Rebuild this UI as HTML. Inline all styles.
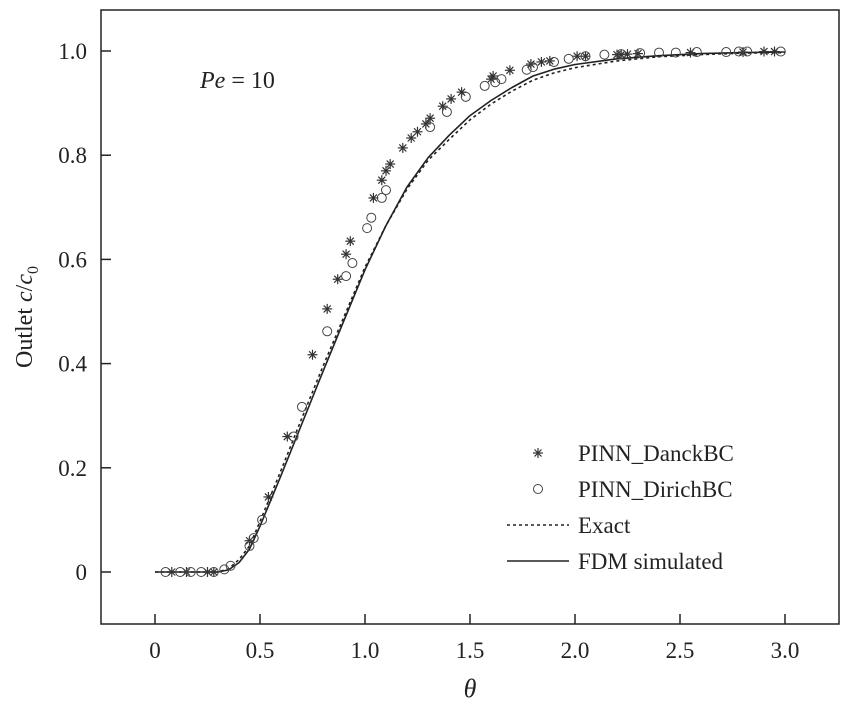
<!DOCTYPE html>
<html><head><meta charset="utf-8"><style>
html,body{margin:0;padding:0;background:#fff}
svg{display:block;font-family:"Liberation Serif",serif}
</style></head><body>
<svg id="chart" width="856" height="710">
<g id="axes"></g><g id="series"></g><g id="legend"></g>
</svg>
<script>
const xTicks=[0,0.5,1.0,1.5,2.0,2.5,3.0];
const xTickLabels=["0","0.5","1.0","1.5","2.0","2.5","3.0"];
const yTicks=[0,0.2,0.4,0.6,0.8,1.0];
const yTickLabels=["0","0.2","0.4","0.6","0.8","1.0"];
const danckX=[0.08,0.15,0.25,0.28,0.45,0.54,0.63,0.75,0.82,0.87,0.91,0.93,1.04,1.08,1.10,1.12,1.18,1.22,1.25,1.29,1.31,1.37,1.41,1.46,1.60,1.61,1.69,1.79,1.84,1.88,2.01,2.05,2.2,2.22,2.25,2.3,2.55,2.8,2.9,2.95];
const danckY=[0,0,0,0,0.06,0.144,0.26,0.417,0.505,0.562,0.61,0.635,0.718,0.752,0.77,0.783,0.814,0.833,0.845,0.86,0.871,0.894,0.908,0.921,0.946,0.952,0.963,0.975,0.979,0.981,0.99,0.99,0.993,0.993,0.994,0.995,0.997,0.998,0.999,0.999];
const dirichX=[0.05,0.12,0.17,0.22,0.28,0.33,0.36,0.45,0.47,0.51,0.66,0.70,0.82,0.91,0.94,1.01,1.03,1.08,1.10,1.31,1.39,1.48,1.57,1.62,1.65,1.77,1.80,1.90,1.97,2.05,2.14,2.22,2.31,2.40,2.48,2.58,2.72,2.78,2.82,2.98];
const dirichY=[0,0,0,0,0,0.005,0.012,0.05,0.065,0.10,0.26,0.317,0.462,0.568,0.593,0.66,0.68,0.718,0.733,0.854,0.883,0.912,0.933,0.94,0.946,0.964,0.969,0.979,0.985,0.99,0.993,0.994,0.996,0.997,0.997,0.998,0.998,0.999,0.999,0.999];
const exactX=[0,0.3,0.35,0.4,0.45,0.5,0.6,0.7,0.8,0.9,1.0,1.1,1.2,1.3,1.4,1.5,1.6,1.7,1.8,1.9,2.0,2.2,2.4,2.6,2.8,3.0];
const exactY=[0,0,0.006,0.024,0.05,0.097,0.195,0.296,0.395,0.49,0.585,0.665,0.735,0.79,0.83,0.868,0.898,0.923,0.944,0.958,0.968,0.981,0.989,0.993,0.996,0.997];
const fdmX=[0,0.3,0.35,0.4,0.45,0.5,0.6,0.7,0.8,0.9,1.0,1.1,1.2,1.3,1.4,1.5,1.6,1.7,1.8,1.9,2.0,2.2,2.4,2.6,2.8,3.0];
const fdmY=[0,0,0.004,0.018,0.044,0.088,0.185,0.285,0.385,0.483,0.58,0.665,0.739,0.795,0.838,0.876,0.905,0.93,0.952,0.965,0.974,0.985,0.991,0.995,0.997,0.998];

const NS="http://www.w3.org/2000/svg";
const L=101,R=839,T=10,B=624;
const sx=v=>155+210*v;
const sy=v=>572-521*v;
function mk(tag,attrs,parent,text){const e=document.createElementNS(NS,tag);for(const k in attrs)e.setAttribute(k,attrs[k]);if(text!==undefined)e.textContent=text;parent.appendChild(e);return e;}
const axes=document.getElementById('axes'),ser=document.getElementById('series'),leg=document.getElementById('legend');

let frame=mk('rect',{x:L,y:T,width:R-L,height:B-T,fill:'none',stroke:'#222','stroke-width':1.5},axes);


xTicks.forEach((v,i)=>{
  let t=mk('line',{x1:sx(v),x2:sx(v),y1:B,y2:B-10,stroke:'#222','stroke-width':1.5},axes);
  
  
  let tl=mk('text',{x:sx(v),y:B+34,'text-anchor':'middle','font-size':23,fill:'#222'},axes,xTickLabels[i]);
  
  
});
yTicks.forEach((v,i)=>{
  let t=mk('line',{x1:L,x2:L+10,y1:sy(v),y2:sy(v),stroke:'#222','stroke-width':1.5},axes);
  
  
  let tl=mk('text',{x:L-14,y:sy(v)+8,'text-anchor':'end','font-size':23,fill:'#222'},axes,yTickLabels[i]);
  
  
});
let xt=mk('text',{x:470,y:697,'text-anchor':'middle','font-size':26,'font-style':'italic',fill:'#222'},axes,'θ');


let yt=mk('text',{transform:'translate(32,317) rotate(-90)','text-anchor':'middle','font-size':24,fill:'#222'},axes);


yt.innerHTML='Outlet <tspan font-style="italic">c</tspan>/<tspan font-style="italic">c</tspan><tspan font-size="16" dy="6">0</tspan>';
let pe=mk('text',{x:200,y:88,'font-size':24,fill:'#222'},axes);


pe.innerHTML='<tspan font-style="italic">Pe</tspan> = 10';

function pathD(xs,ys){return xs.map((x,i)=>(i?'L':'M')+sx(x).toFixed(1)+' '+sy(ys[i]).toFixed(1)).join(' ');}
let ex=mk('path',{d:pathD(exactX,exactY),fill:'none',stroke:'#222','stroke-width':1.6,'stroke-dasharray':'3,3','stroke-linejoin':'round'},ser);


let fd=mk('path',{d:pathD(fdmX,fdmY),fill:'none',stroke:'#222','stroke-width':1.6,'stroke-linejoin':'round'},ser);


function star(cx,cy,p,s){const g=mk('g',{stroke:'#333','stroke-width':1.2},p);
  mk('line',{x1:cx-s,y1:cy,x2:cx+s,y2:cy},g);mk('line',{x1:cx,y1:cy-s,x2:cx,y2:cy+s},g);
  mk('line',{x1:cx-s*.7,y1:cy-s*.7,x2:cx+s*.7,y2:cy+s*.7},g);mk('line',{x1:cx-s*.7,y1:cy+s*.7,x2:cx+s*.7,y2:cy-s*.7},g);return g;}
danckX.forEach((x,i)=>{const g=star(sx(x),sy(danckY[i]),ser,5);
  
  });
dirichX.forEach((x,i)=>{const c=mk('circle',{cx:sx(x),cy:sy(dirichY[i]),r:4.5,fill:'none',stroke:'#444','stroke-width':1},ser);
  
  });

const legItems=[['PINN_DanckBC','star'],['PINN_DirichBC','circle'],['Exact','dash'],['FDM simulated','solid']];
legItems.forEach((it,i)=>{const y=453+36*i;
  const g=mk('g',{},leg);
  
  
  if(it[1]==='star')star(538,y,g,5);
  else if(it[1]==='circle')mk('circle',{cx:538,cy:y,r:4.5,fill:'none',stroke:'#444','stroke-width':1},g);
  else mk('line',{x1:507,x2:569,y1:y,y2:y,stroke:'#222','stroke-width':1.6,'stroke-dasharray':it[1]==='dash'?'3,3':'none'},g);
  mk('text',{x:578,y:y+8,'font-size':23,fill:'#222'},g,it[0]);
});
</script>
</body></html>
